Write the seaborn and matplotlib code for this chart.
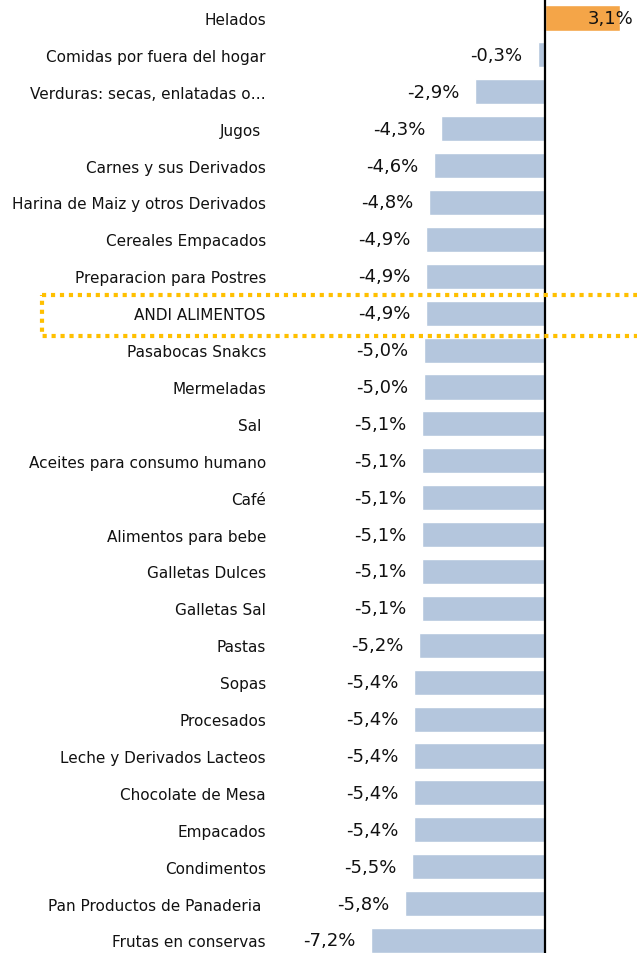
import numpy as np
import pandas as pd
import seaborn as sns
import matplotlib.pyplot as plt
from matplotlib.patches import Rectangle

# Datos: variacion por categoria
categorias = [
    "Helados", "Comidas por fuera del hogar", "Verduras: secas, enlatadas o…",
    "Jugos ", "Carnes y sus Derivados", "Harina de Maiz y otros Derivados",
    "Cereales Empacados", "Preparacion para Postres", "ANDI ALIMENTOS",
    "Pasabocas Snakcs", "Mermeladas", "Sal ", "Aceites para consumo humano",
    "Café", "Alimentos para bebe", "Galletas Dulces", "Galletas Sal", "Pastas",
    "Sopas", "Procesados", "Leche y Derivados Lacteos", "Chocolate de Mesa",
    "Empacados", "Condimentos", "Pan Productos de Panaderia ", "Frutas en conservas",
]
variacion = [
    3.1, -0.3, -2.9, -4.3, -4.6, -4.8, -4.9, -4.9, -4.9, -5.0, -5.0, -5.1, -5.1,
    -5.1, -5.1, -5.1, -5.1, -5.2, -5.4, -5.4, -5.4, -5.4, -5.4, -5.5, -5.8, -7.2,
]
destacado = "ANDI ALIMENTOS"

df = pd.DataFrame({"categoria": categorias, "variacion": variacion})
df["signo"] = np.where(df["variacion"] > 0, "pos", "neg")

sns.set_style("white")
plt.rcParams["font.family"] = ["DejaVu Sans"]

fig = plt.figure(figsize=(6.37, 9.54), dpi=100)
ax = fig.add_axes([275 / 637, 0, 1 - 275 / 637, 1])

sns.barplot(data=df, x="variacion", y="categoria", hue="signo",
            palette={"pos": "#F4A548", "neg": "#B4C6DD"}, saturation=1,
            order=categorias, orient="h", width=0.68, dodge=False,
            legend=False, ax=ax)

# Escala: 0 en x=545 px, ~24.2 px por punto
ax.set_xlim(-11.16, 3.80)
ax.set_ylim(25.34, -0.515)
ax.axvline(0, color="black", lw=1.6)

# Etiquetas de valor
for i, v in enumerate(variacion):
    txt = f"{v:.1f}%".replace(".", ",")
    if v > 0:
        ax.text(v + 0.55, i, txt, ha="right", va="center", fontsize=13, color="#111111")
    else:
        ax.text(v - 0.65, i, txt, ha="right", va="center", fontsize=13, color="#111111")

# Etiquetas de categoria
ax.set_yticks(range(len(categorias)))
ax.set_yticklabels(categorias, fontsize=11, color="#111111")
ax.tick_params(axis="y", length=0, pad=6.5)
ax.set_xticks([])
ax.set_xlabel("")
ax.set_ylabel("")
sns.despine(ax=ax, left=True, bottom=True)

# Recuadro punteado alrededor de ANDI ALIMENTOS
k = categorias.index(destacado)
rect = Rectangle((-20.8, k - 0.49), 30, 1.11, fill=False, edgecolor="#FFC000",
                 lw=3.0, linestyle=(0, (1, 1.15)), clip_on=False, zorder=5)
ax.add_patch(rect)

plt.savefig("out.png", dpi=100)
